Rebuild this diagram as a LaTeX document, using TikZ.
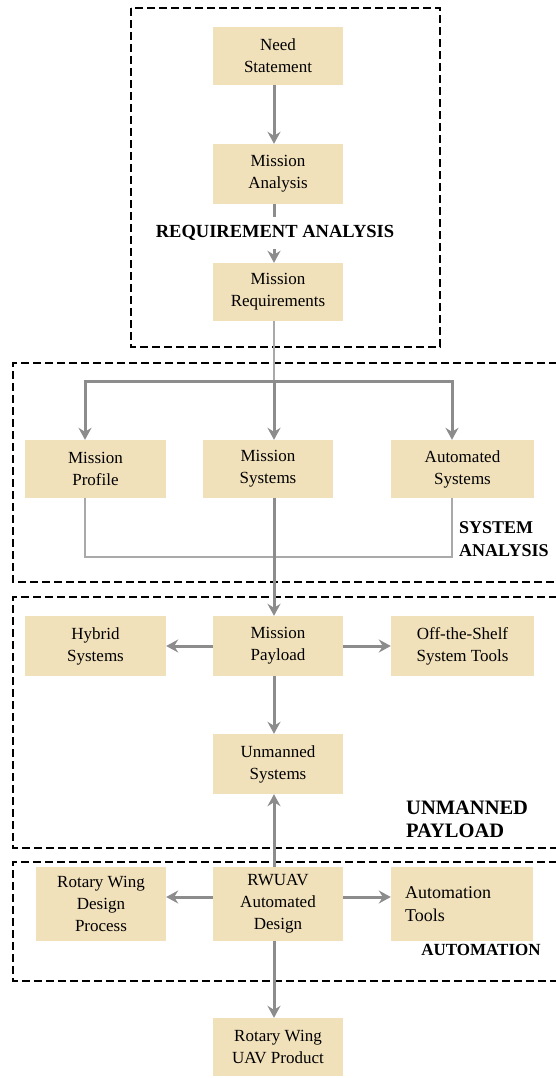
\documentclass[tikz,border=0pt]{standalone}
\usepackage{fontspec}
\setmainfont{Liberation Serif}
\usepackage{tikz}
\usetikzlibrary{arrows.meta, positioning}

\definecolor{parchment}{RGB}{241,225,187}
\definecolor{flowgray}{RGB}{140,140,140}

\begin{document}
\begin{tikzpicture}[x=1pt, y=-1pt,
        box/.style={fill=parchment, minimum width=130pt, minimum height=58pt, align=center, inner sep=2pt, font=\fontsize{17}{22}\selectfont},
        flow/.style={draw=flowgray, line width=3pt, -{Stealth[length=12pt,width=13pt,inset=4pt]}},
        link/.style={draw=flowgray!75, line width=1.8pt},
        region/.style={draw=black, line width=2.8pt, dash pattern=on 8pt off 4pt},
        title/.style={font=\bfseries\fontsize{18}{23}\selectfont, align=left, inner sep=1pt}]
        \useasboundingbox (0,0) rectangle (555,1078);

        \draw[region] (131,8) rectangle (440,347);
        \draw[region] (557,363) -| (13,582) -- (557,582);
        \draw[region] (557,597) -| (13,848) -- (557,848);
        \draw[region] (557,862) -| (13,981) -- (557,981);

        \node[box] (1) at (278,56) {Need\\Statement};
        \node[box, minimum height=60pt] (2) at (278,174) {Mission\\Analysis};
        \node[box] (3) at (278,292) {Mission\\Requirements};
        \node[box, minimum width=141pt] (4) at (95.5,469) {Mission\\Profile};
        \node[box] (5) at (268,469) {Mission\\Systems};
        \node[box, minimum width=143pt] (6) at (462.5,469) {Automated\\Systems};
        \node[box, minimum width=141pt, minimum height=60pt] (7) at (95.5,646) {Hybrid\\Systems};
        \node[box, minimum height=60pt] (8) at (278,646) {Mission\\Payload};
        \node[box, minimum width=143pt, minimum height=60pt] (9) at (462.5,646) {Off-the-Shelf\\System Tools};
        \node[box, minimum height=60pt] (10) at (278,764) {Unmanned\\Systems};
        \node[box, minimum height=74pt] (11) at (101,904) {Rotary Wing\\Design\\Process};
        \node[box, minimum height=74pt] (12) at (278,904) {RWUAV\\Automated\\Design};
        \node[box, minimum width=142pt, minimum height=74pt, align=left, text width=114pt, font=\fontsize{18}{23}\selectfont] (13) at (462,904) {Automation\\Tools\\[10pt]};
        \node[box] (14) at (278,1047) {Rotary Wing\\UAV Product};

        \coordinate (t) at (274,381);
        \coordinate (l) at (85,381);
        \coordinate (r) at (452,381);
        \coordinate (m) at (274,557);

        \draw[flow] (t |- 1.south) -- (t |- 2.north);
        \draw[flow] (t |- 2.south) -- (t |- 3.north);
        \draw[link] (t |- 3.south) -- (t);
        \draw[flow] (t) -- (t |- 5.north);
        \draw[flow] (t) -- (l) -- (l |- 4.north);
        \draw[flow] (t) -- (r) -- (r |- 6.north);
        \draw[link] (l |- 4.south) -- (l |- m) -- (r |- m) -- (r |- 6.south);
        \draw[flow] (t |- 5.south) -- (t |- 8.north);
        \draw[flow] (8) -- (7);
        \draw[flow] (8) -- (9);
        \draw[flow] (t |- 8.south) -- (t |- 10.north);
        \draw[flow] (t |- 12.north) -- (t |- 10.south);
        \draw[flow] ([yshift=7pt]12.west) -- ([yshift=7pt]11.east);
        \draw[flow] ([yshift=7pt]12.east) -- ([yshift=7pt]13.west);
        \draw[flow] (t |- 12.south) -- (t |- 14.north);

        \node[title, fill=white, minimum height=32pt, font=\bfseries\fontsize{18.5}{23}\selectfont] (15) at (275,233) {REQUIREMENT ANALYSIS};
        \node[title, anchor=west] (16) at (458,539) {SYSTEM\\ANALYSIS};
        \node[title, anchor=west, font=\bfseries\fontsize{20.5}{23}\selectfont] (17) at (405,819) {UNMANNED\\PAYLOAD};
        \node[title, font=\bfseries\fontsize{17}{20}\selectfont] (18) at (481,950) {AUTOMATION};
\end{tikzpicture}
\end{document}
